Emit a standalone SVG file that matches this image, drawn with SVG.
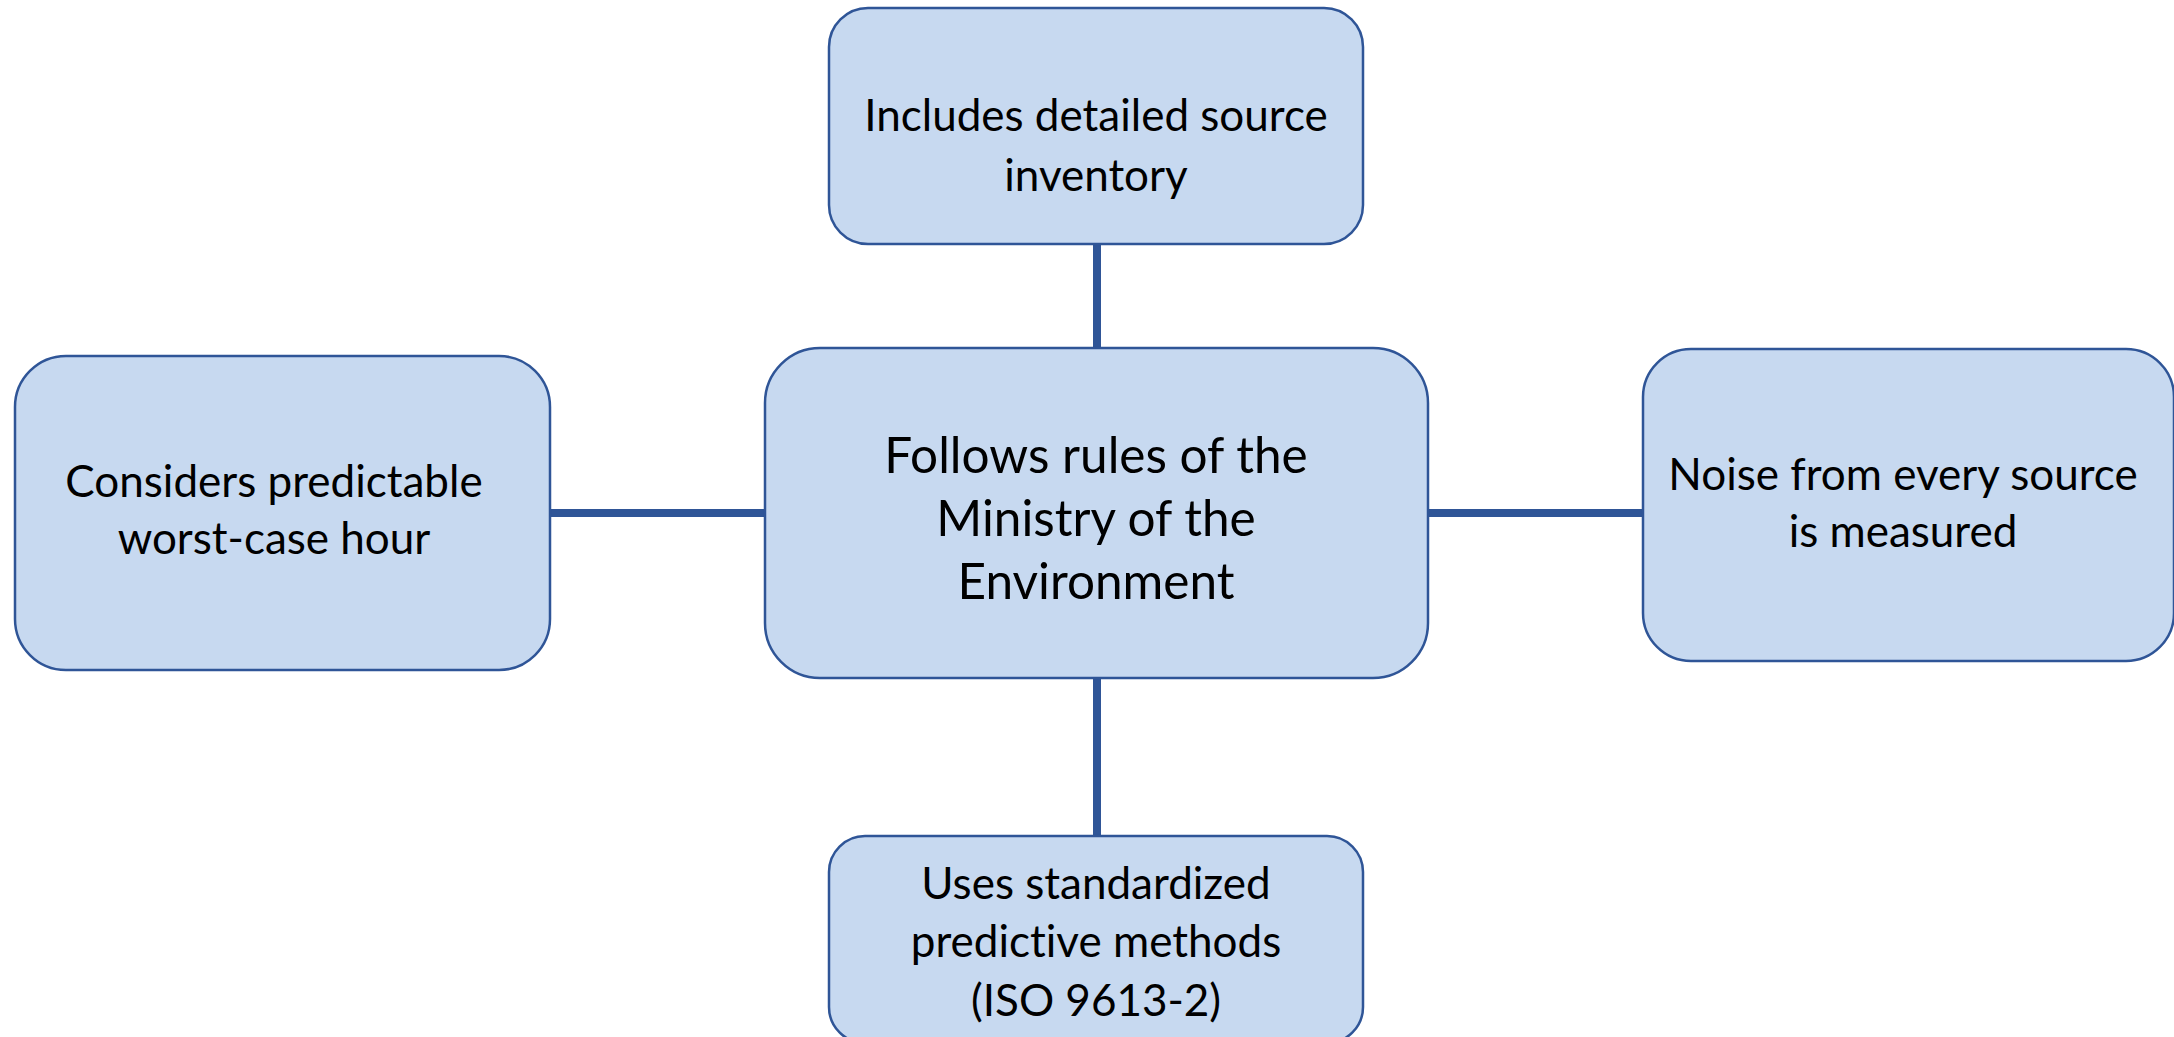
<svg xmlns="http://www.w3.org/2000/svg" width="2174" height="1037" viewBox="0 0 2174 1037">
<style>
.box{fill:#C7D9F0;stroke:#2F5597;stroke-width:2.5}
.lbl{font-family:Lato,"Liberation Sans",sans-serif;font-size:44px;fill:#000;text-anchor:middle;font-variant-ligatures:none;font-feature-settings:"liga" 0,"dlig" 0}
.big{font-size:49.5px}
.conn{stroke:#2F5597;stroke-width:8;fill:none}
</style>
<rect width="2174" height="1037" fill="#fff"/>
<g id="connectors">
<line class="conn" x1="1097" y1="244" x2="1097" y2="348"/>
<line class="conn" x1="1097" y1="678" x2="1097" y2="836"/>
<line class="conn" x1="549" y1="513" x2="765" y2="513"/>
<line class="conn" x1="1428" y1="513" x2="1643" y2="513"/>
</g>
<g id="node-top">
<rect class="box" x="829" y="8" width="534" height="236" rx="39"/>
<text class="lbl" x="1096" y="131">Includes detailed source</text>
<text class="lbl" x="1096" y="191">inventory</text>
</g>
<g id="node-center">
<rect class="box" x="765" y="348" width="663" height="330" rx="55"/>
<text class="lbl big" x="1096" y="473">Follows rules of the</text>
<text class="lbl big" x="1096" y="536">Ministry of the</text>
<text class="lbl big" x="1096" y="599">Environment</text>
</g>
<g id="node-left">
<rect class="box" x="15" y="356" width="535" height="314" rx="51"/>
<text class="lbl" x="274" y="497">Considers predictable</text>
<text class="lbl" x="274" y="554">worst-case hour</text>
</g>
<g id="node-right">
<rect class="box" x="1643" y="349" width="531" height="312" rx="48"/>
<text class="lbl" x="1903" y="490">Noise from every source</text>
<text class="lbl" x="1903" y="547">is measured</text>
</g>
<g id="node-bottom">
<rect class="box" x="829" y="836" width="534" height="207" rx="36"/>
<text class="lbl" x="1096" y="899">Uses standardized</text>
<text class="lbl" x="1096" y="957">predictive methods</text>
<text class="lbl" x="1096" y="1016">(ISO 9613-2)</text>
</g>
</svg>
